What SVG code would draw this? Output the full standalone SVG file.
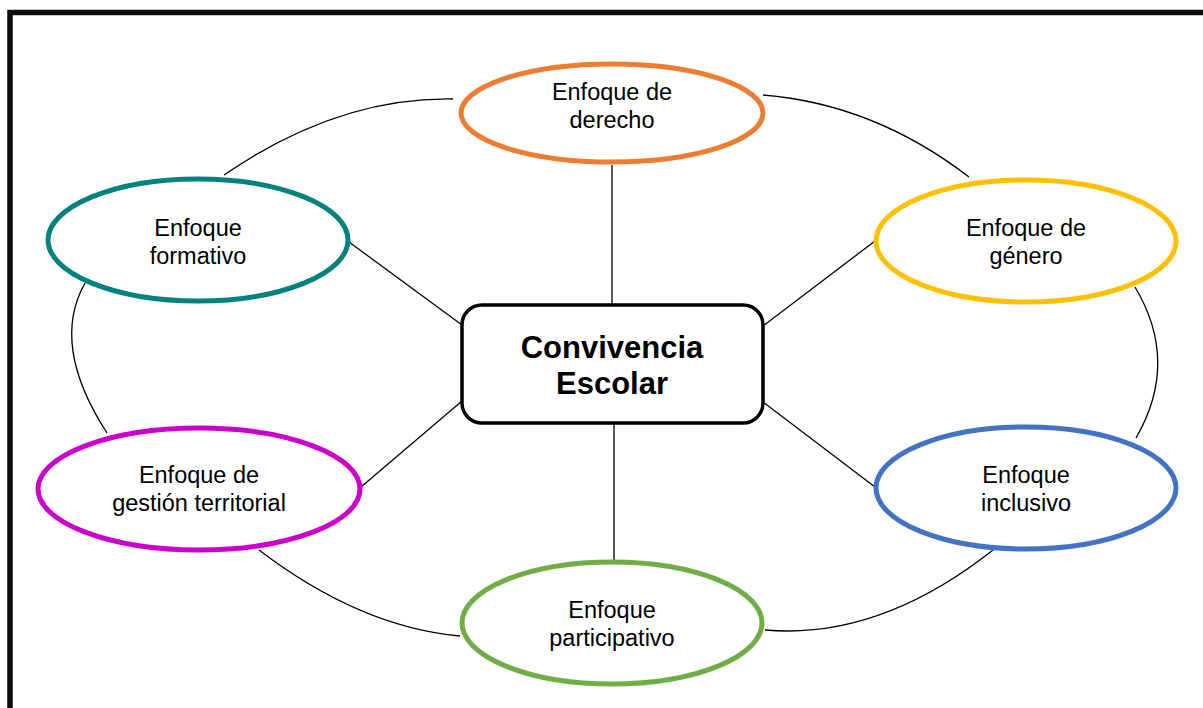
<svg xmlns="http://www.w3.org/2000/svg" width="1203" height="708" viewBox="0 0 1203 708">
<style>
.e{fill:#fff;stroke-width:5}
.c{fill:none;stroke:#000;stroke-width:1.3}
.t{font-family:"Liberation Sans",Arial,sans-serif;font-size:23.5px;fill:#000;text-anchor:middle}
.b{font-family:"Liberation Sans",Arial,sans-serif;font-size:31px;font-weight:bold;fill:#000;text-anchor:middle}
</style>
<rect x="0" y="0" width="1203" height="708" fill="#fff"/>
<rect x="10" y="12.5" width="1300" height="800" fill="none" stroke="#0d0d0d" stroke-width="5.5"/>
<g id="connectors">
<line class="c" x1="612" y1="165" x2="612" y2="304"/>
<line class="c" x1="614" y1="424" x2="614" y2="562"/>
<line class="c" x1="349" y1="242" x2="462" y2="325"/>
<line class="c" x1="875" y1="241" x2="763" y2="326"/>
<line class="c" x1="361" y1="487" x2="462" y2="401"/>
<line class="c" x1="875" y1="487" x2="763" y2="402"/>
<path class="c" d="M224,175 Q338,97 453,99"/>
<path class="c" d="M763,95 Q874,104 969,177"/>
<path class="c" d="M1135,287 Q1180,362 1136,438"/>
<path class="c" d="M85,283 Q50,345 107,433"/>
<path class="c" d="M259,550 Q360,627 460,636"/>
<path class="c" d="M765,630 Q879,640 993,550"/>
</g>
<g id="derecho">
<ellipse class="e" cx="612" cy="113" rx="151" ry="49" stroke="#ED7D31"/>
<text class="t" x="612" y="100">Enfoque de</text>
<text class="t" x="612" y="128">derecho</text>
</g>
<g id="formativo">
<ellipse class="e" cx="198" cy="240" rx="150" ry="61" stroke="#00827F"/>
<text class="t" x="198" y="236">Enfoque</text>
<text class="t" x="198" y="264">formativo</text>
</g>
<g id="genero">
<ellipse class="e" cx="1026" cy="241" rx="150" ry="61" stroke="#FFC000"/>
<text class="t" x="1026" y="236">Enfoque de</text>
<text class="t" x="1026" y="264">género</text>
</g>
<g id="territorial">
<ellipse class="e" cx="199" cy="489" rx="161" ry="61" stroke="#CC00CC"/>
<text class="t" x="199" y="483">Enfoque de</text>
<text class="t" x="199" y="511">gestión territorial</text>
</g>
<g id="inclusivo">
<ellipse class="e" cx="1026" cy="488" rx="150" ry="61" stroke="#4472C4"/>
<text class="t" x="1026" y="483">Enfoque</text>
<text class="t" x="1026" y="511">inclusivo</text>
</g>
<g id="participativo">
<ellipse class="e" cx="612" cy="623" rx="150" ry="61" stroke="#70AD47"/>
<text class="t" x="612" y="618">Enfoque</text>
<text class="t" x="612" y="646">participativo</text>
</g>
<g id="center">
<rect x="462" y="305" width="301" height="118" rx="20" fill="#fff" stroke="#000" stroke-width="3.5"/>
<text class="b" x="612" y="358">Convivencia</text>
<text class="b" x="612" y="394">Escolar</text>
</g>
</svg>
